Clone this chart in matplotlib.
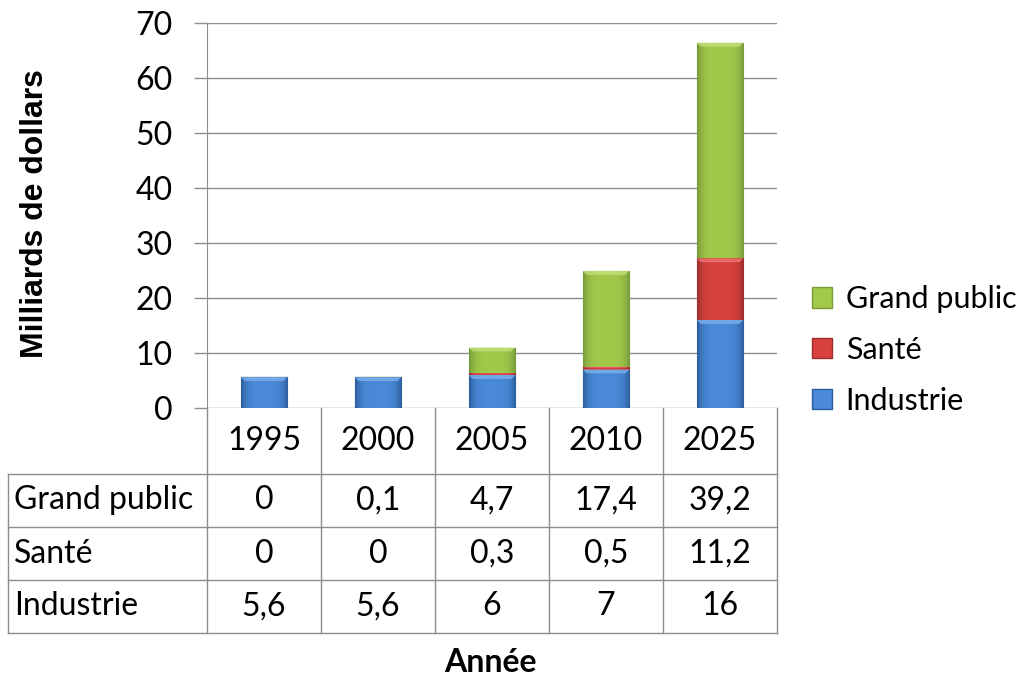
import matplotlib
matplotlib.use("Agg")
import matplotlib.pyplot as plt
import matplotlib.patches as mpatches
from matplotlib.colors import to_rgb
import numpy as np

# data
years = ["1995", "2000", "2005", "2010", "2025"]
industrie = [5.6, 5.6, 6, 7, 16]
sante = [0, 0, 0.3, 0.5, 11.2]
grand_public = [0, 0.1, 4.7, 17.4, 39.2]
series_names = ["Industrie", "Santé", "Grand public"]
yticks = [0, 10, 20, 30, 40, 50, 60, 70]

plt.rcParams["font.family"] = ["Lato", "DejaVu Sans"]
FS = 23

# base colour / edge colour / highlight for each series
COLORS = {
    "Industrie": ("#4a8ad8", "#2c5d9c", "#7fb4ee"),
    "Santé": ("#d8413d", "#9c2e2b", "#ee7a76"),
    "Grand public": ("#a2c94a", "#76993a", "#c6e27e"),
}
GRID = "#8e8e8e"


def fmt(v):
    return f"{v:g}".replace(".", ",")


def shade_bar(ax, patch, base, dark, light):
    """Excel-2007 look: darker sides, lighter middle, bevel on top."""
    x0, y0 = patch.get_x(), patch.get_y()
    w, h = patch.get_width(), patch.get_height()
    if h <= 0:
        return
    t = np.linspace(-1, 1, 80)
    f = 1 - np.abs(t) ** 4
    b = np.array(to_rgb(base))
    d = np.array(to_rgb(dark))
    cols = d + (b - d) * f[:, None]
    im = ax.imshow(cols[None, :, :], extent=(x0, x0 + w, y0, y0 + h),
                   aspect="auto", interpolation="bilinear", zorder=2.1)
    im.set_clip_path(patch)
    bh = min(0.7, h * 0.35)
    top = y0 + h
    ins = 0.035
    bevel = mpatches.Polygon(
        [(x0, top), (x0 + w, top), (x0 + w - ins, top - bh), (x0 + ins, top - bh)],
        closed=True, facecolor=light, edgecolor="none", alpha=0.75, zorder=2.2)
    ax.add_patch(bevel)


fig = plt.figure(figsize=(10.35, 6.77), dpi=100)
ax = fig.add_axes([207 / 1035, 1 - 408 / 677, 570 / 1035, 385 / 677])

x = np.arange(len(years))
bw = 0.41
bottom = np.zeros(len(years))
for name, vals in zip(series_names, [industrie, sante, grand_public]):
    base, dark, light = COLORS[name]
    bars = ax.bar(x, vals, bw, bottom=bottom, color=base, edgecolor=dark,
                  linewidth=0.8, zorder=2, label=name)
    for p in bars:
        shade_bar(ax, p, base, dark, light)
    bottom = bottom + np.array(vals)

ax.set_xlim(-0.5, len(years) - 0.5)
ax.set_ylim(0, 70)
ax.set_yticks(yticks)
ax.set_xticks([])
ax.tick_params(axis="y", direction="out", length=9.5, width=1, color=GRID,
               labelsize=FS, pad=15)
ax.yaxis.grid(True, color=GRID, linewidth=1, zorder=0)
ax.set_axisbelow(True)
for s in ["top", "right", "bottom"]:
    ax.spines[s].set_visible(False)
ax.spines["left"].set_color(GRID)

# data table below the plot (x in data units, y in axes fraction)
trans = ax.get_xaxis_transform()
row_edges = [0, -0.1714, -0.309, -0.447, -0.584]
left_edge = -0.5 - 199 / 114
kw = dict(color=GRID, linewidth=1, transform=trans, clip_on=False, zorder=1)
for xe in np.arange(-0.5, len(years), 1.0):
    ax.plot([xe, xe], [row_edges[0], row_edges[-1]], **kw)
ax.plot([left_edge, left_edge], [row_edges[1], row_edges[-1]], **kw)
for ye in row_edges[1:]:
    ax.plot([left_edge, len(years) - 0.5], [ye, ye], **kw)

tkw = dict(transform=trans, fontsize=FS, va="center", clip_on=False)
yc = [(row_edges[i] + row_edges[i + 1]) / 2 for i in range(4)]
for i, yr in enumerate(years):
    ax.text(i, yc[0], yr, ha="center", **tkw)
table_rows = [("Grand public", grand_public), ("Santé", sante),
              ("Industrie", industrie)]
for r, (name, vals) in enumerate(table_rows, start=1):
    ax.text(left_edge + 0.05, yc[r], name, ha="left", **tkw)
    for i, v in enumerate(vals):
        ax.text(i, yc[r], fmt(v), ha="center", **tkw)

# legend (top series first)
handles = [mpatches.Patch(facecolor=COLORS[n][0], edgecolor=COLORS[n][1],
                          label=n) for n in reversed(series_names)]
fig.legend(handles=handles, loc="center left",
           bbox_to_anchor=(812 / 1035, 1 - 350 / 677), frameon=False,
           fontsize=22, handlelength=0.65, handleheight=0.65,
           handletextpad=0.45, labelspacing=0.75, borderaxespad=0,
           borderpad=0)

fig.text(35 / 1035, 1 - 214 / 677, "Milliards de dollars", rotation=90,
         ha="center", va="center", fontsize=23, fontweight="bold",
         family=["Liberation Sans", "DejaVu Sans"])
fig.text(490 / 1035, 1 - 662 / 677, "Année", ha="center", va="center",
         fontsize=FS, fontweight="bold")

fig.savefig("out.png", dpi=100)
